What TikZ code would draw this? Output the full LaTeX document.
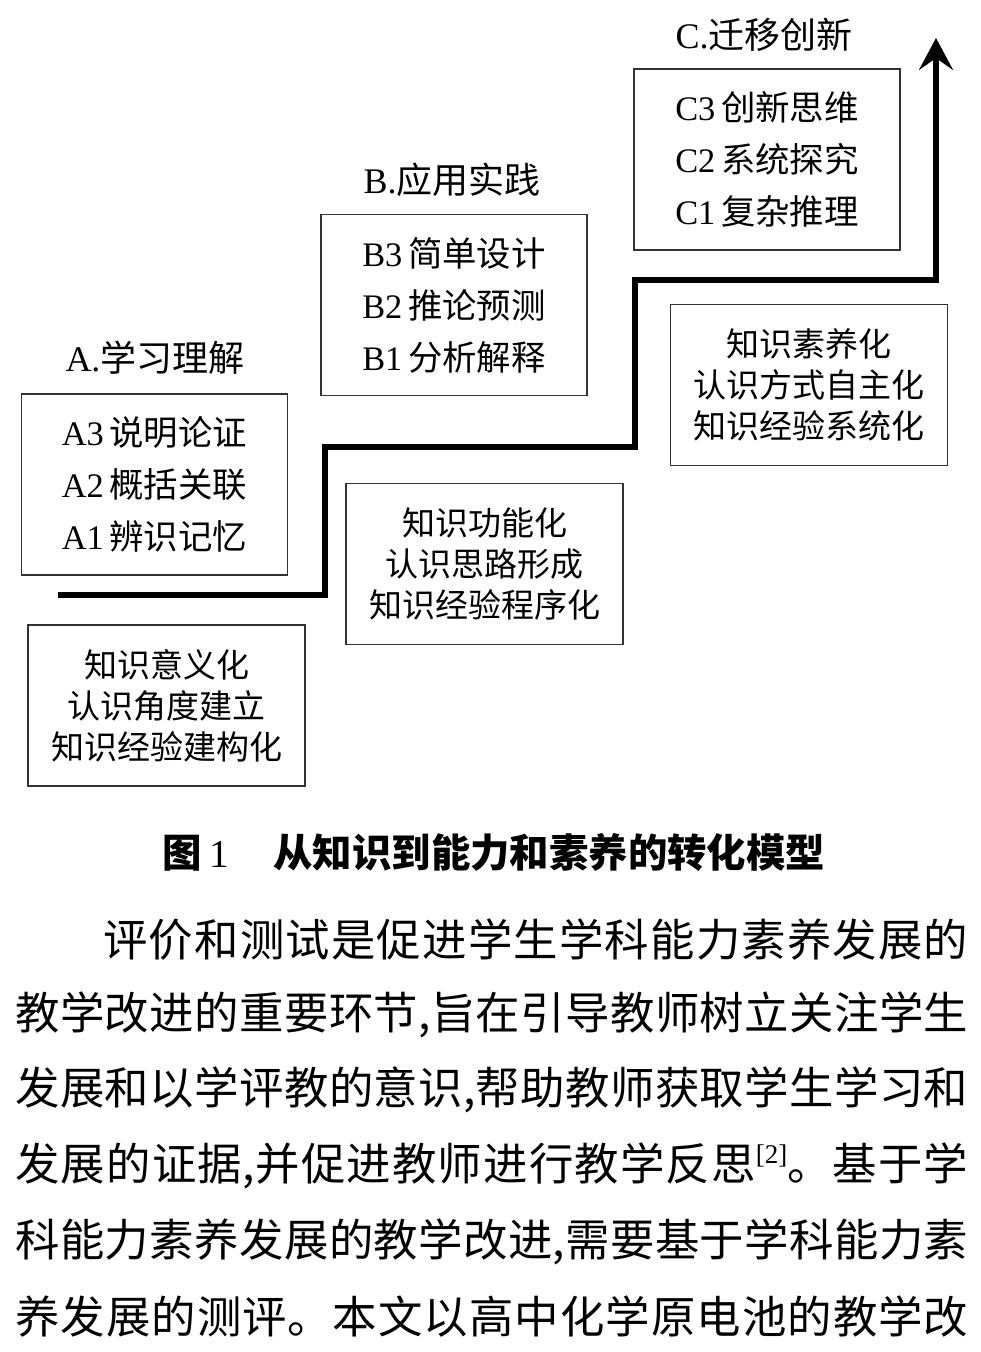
\documentclass[tikz,border=0pt]{standalone}
\usepackage{fontspec}
\setmainfont{Liberation Serif}
\newfontfamily\cjk{Noto Sans CJK SC}
\usetikzlibrary{arrows.meta}
\XeTeXlinebreaklocale "zh"
\XeTeXlinebreakskip=0pt plus 3pt minus 0.5pt
\begin{document}
\begin{tikzpicture}[x=0.5pt,y=-0.5pt,
  box/.style={draw=black!80, line width=0.75pt, inner sep=0pt, align=center},
  bigbox/.style={box, minimum width=133pt, minimum height=90.5pt, font=\fontsize{17.2}{26}\selectfont},
  smallbox/.style={box, minimum width=138.5pt, minimum height=80.5pt, font=\cjk\fontsize{16.5}{20.5}\selectfont},
  lbl/.style={inner sep=0pt, font=\fontsize{18}{20}\selectfont},
  stair/.style={line width=2.7pt, -{Stealth[length=16pt,width=17pt,inset=6pt]}},
  bodyline/.style={anchor=west, inner sep=0pt, align=justify, font=\cjk\fontsize{22.2}{30}\selectfont},
  captxt/.style={anchor=west, inner sep=0pt, font=\fontsize{19.7}{22}\selectfont}]
\useasboundingbox[fill=white] (0,0) rectangle (980,1352);

% level labels
\node[lbl] (lC) at (764,35) {C.{\cjk 迁移创新}};
\node[lbl] (lB) at (452,180) {B.{\cjk 应用实践}};
\node[lbl] (lA) at (155,358) {A.{\cjk 学习理解}};

% level boxes
\node[bigbox] (bC) at (767,159.5) {C3\,{\cjk 创新思维}\\C2\,{\cjk 系统探究}\\C1\,{\cjk 复杂推理}};
\node[bigbox] (bB) at (454,305) {B3\,{\cjk 简单设计}\\B2\,{\cjk 推论预测}\\B1\,{\cjk 分析解释}};
\node[bigbox] (bA) at (154.5,484.5) {A3\,{\cjk 说明论证}\\A2\,{\cjk 概括关联}\\A1\,{\cjk 辨识记忆}};

% lower boxes
\node[smallbox] (dC) at (809,385) {知识素养化\\认识方式自主化\\知识经验系统化};
\node[smallbox] (dB) at (484.5,564) {知识功能化\\认识思路形成\\知识经验程序化};
\node[smallbox] (dA) at (166.5,705.5) {知识意义化\\认识角度建立\\知识经验建构化};

% staircase
\coordinate (p0) at (58,595);
\coordinate (p1) at (325,595);
\coordinate (p2) at (325,447);
\coordinate (p3) at (635,447);
\coordinate (p4) at (635,280);
\coordinate (p5) at (936,280);
\coordinate (p6) at (936,38);
\draw[stair] (p0) -- (p1) -- (p2) -- (p3) -- (p4) -- (p5) -- (p6);

% caption
\node[captxt] (cap) at (162,852) {{\cjk\bfseries 图}\hspace{4pt}1\hspace{22pt}{\cjk\bfseries 从知识到能力和素养的转化模型}};

% body text
\node[bodyline, text width=432.5pt] (t1) at (103,940) {\parfillskip=0pt\noindent 评价和测试是促进学生学科能力素养发展的\par};
\node[bodyline, text width=476.5pt] (t2) at (15,1015) {\parfillskip=0pt\noindent 教学改进的重要环节,旨在引导教师树立关注学生\par};
\node[bodyline, text width=476.5pt] (t3) at (15,1090) {\parfillskip=0pt\noindent 发展和以学评教的意识,帮助教师获取学生学习和\par};
\node[bodyline, text width=476.5pt] (t4) at (15,1166) {\parfillskip=0pt\noindent 发展的证据,并促进教师进行教学反思\raisebox{0.38em}{\rmfamily\fontsize{13.5}{13.5}\selectfont[2]}。基于学\par};
\node[bodyline, text width=476.5pt] (t5) at (15,1242) {\parfillskip=0pt\noindent 科能力素养发展的教学改进,需要基于学科能力素\par};
\node[bodyline, text width=476.5pt] (t6) at (15,1317) {\parfillskip=0pt\noindent 养发展的测评。本文以高中化学原电池的教学改\par};
\end{tikzpicture}
\end{document}
